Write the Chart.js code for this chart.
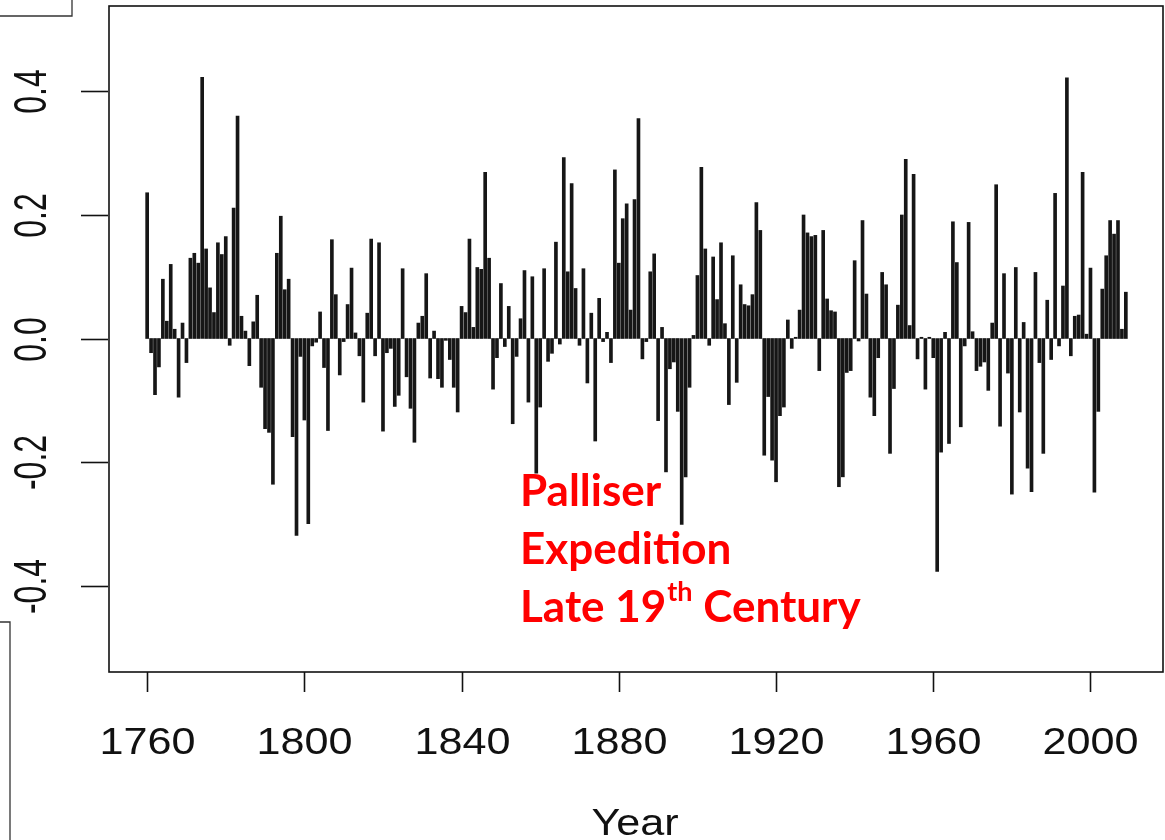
<!DOCTYPE html>
<html>
<head>
<meta charset="utf-8">
<title>Palliser Expedition</title>
<script src="https://cdn.jsdelivr.net/npm/chart.js@4.4.1/dist/chart.umd.min.js"></script>
<style>
  html, body { margin: 0; padding: 0; background: #fff; }
  #wrap { position: relative; width: 1165px; height: 840px; }
</style>
</head>
<body>
<div id="wrap"><canvas id="chart" width="1165" height="840"></canvas></div>
<script>
// Yearly values, one row per decade, starting in 1760
const firstYear = 1760;
const anomaly = [
  0.236, -0.023, -0.091, -0.046, 0.096, 0.028, 0.120, 0.015, -0.095, 0.025,   // 1760s
  -0.039, 0.130, 0.138, 0.122, 0.423, 0.145, 0.082, 0.042, 0.155, 0.136,     // 1770s
  0.165, -0.011, 0.211, 0.360, 0.036, 0.012, -0.044, 0.027, 0.070, -0.079,   // 1780s
  -0.146, -0.152, -0.236, 0.138, 0.198, 0.079, 0.096, -0.159, -0.319, -0.029, // 1790s
  -0.132, -0.300, -0.012, -0.006, 0.043, -0.047, -0.149, 0.160, 0.071, -0.059, // 1800s
  -0.005, 0.055, 0.114, 0.009, -0.028, -0.103, 0.041, 0.161, -0.028, 0.155,  // 1810s
  -0.150, -0.023, -0.016, -0.110, -0.092, 0.113, -0.062, -0.113, -0.168, 0.025, // 1820s
  0.036, 0.105, -0.064, 0.012, -0.065, -0.079, -0.003, -0.034, -0.079, -0.119, // 1830s
  0.052, 0.042, 0.161, 0.018, 0.115, 0.112, 0.269, 0.130, -0.082, -0.031,    // 1840s
  0.089, -0.013, 0.052, -0.138, -0.029, 0.032, 0.110, -0.103, 0.100, -0.218, // 1850s
  -0.111, 0.113, -0.037, -0.024, 0.156, -0.009, 0.293, 0.108, 0.251, 0.081,  // 1860s
  -0.011, 0.113, -0.072, 0.041, -0.166, 0.065, -0.005, 0.010, -0.039, 0.273, // 1870s
  0.122, 0.194, 0.218, 0.046, 0.225, 0.356, -0.033, -0.005, 0.108, 0.137,    // 1880s
  -0.133, 0.018, -0.216, -0.049, -0.038, -0.118, -0.301, -0.224, -0.079, 0.005, // 1890s
  0.102, 0.277, 0.145, -0.011, 0.132, 0.063, 0.155, 0.024, -0.107, 0.134,    // 1900s
  -0.071, 0.087, 0.055, 0.053, 0.071, 0.220, 0.175, -0.189, -0.094, -0.197,  // 1910s
  -0.232, -0.125, -0.111, 0.030, -0.016, 0.002, 0.046, 0.200, 0.171, 0.165,  // 1920s
  0.167, -0.052, 0.175, 0.064, 0.045, 0.043, -0.240, -0.224, -0.055, -0.052, // 1930s
  0.126, -0.004, 0.191, 0.072, -0.095, -0.125, -0.031, 0.107, 0.087, -0.186, // 1940s
  -0.081, 0.054, 0.200, 0.290, 0.021, 0.266, -0.033, 0.002, -0.082, 0.002,   // 1950s
  -0.031, -0.377, -0.184, 0.010, -0.170, 0.189, 0.123, -0.143, -0.012, 0.188, // 1960s
  0.011, -0.052, -0.045, -0.038, -0.084, 0.025, 0.249, -0.142, 0.105, -0.056, // 1970s
  -0.252, 0.115, -0.119, 0.026, -0.210, -0.248, 0.107, -0.039, -0.186, 0.062, // 1980s
  -0.034, 0.235, -0.012, 0.085, 0.422, -0.028, 0.036, 0.038, 0.269, 0.007,   // 1990s
  0.114, -0.249, -0.118, 0.080, 0.134, 0.191, 0.169, 0.191, 0.015, 0.075     // 2000s
];
const years = anomaly.map((v, i) => firstYear + i);

const xTicks = [1760, 1800, 1840, 1880, 1920, 1960, 2000];
const yTicks = [-0.4, -0.2, 0.0, 0.2, 0.4];
const yTickLabels = ['-0.4', '-0.2', '0.0', '0.2', '0.4'];
const xTitle = 'Year';
const noteLines = ['Palliser', 'Expedition'];
const noteLast = ['Late 19', 'th', ' Century'];

const tickFont = '34px "Liberation Sans", Arial, sans-serif';
const yTickFont = '32px "Liberation Sans", Arial, sans-serif';
const noteFont = 'bold 44px Lato, "Open Sans", sans-serif';
const supFont = 'bold 27px Lato, "Open Sans", sans-serif';
const ink = '#111';

// draw text squeezed/stretched around its centre
function drawScaled(ctx, text, cx, cy, sx, sy, rot) {
  ctx.save();
  ctx.translate(cx, cy);
  if (rot) ctx.rotate(rot);
  ctx.scale(sx, sy);
  ctx.fillText(text, 0, 0);
  ctx.restore();
}

const frame = {
  id: 'frame',
  afterDraw(chart) {
    const { ctx, chartArea: a, scales: { x, y } } = chart;
    ctx.save();
    ctx.strokeStyle = ink;
    ctx.fillStyle = ink;
    ctx.lineWidth = 1.6;

    // plot box
    ctx.strokeRect(a.left + 1, a.top + 1, a.right - a.left - 3, a.bottom - a.top - 1);

    ctx.textAlign = 'center';
    ctx.textBaseline = 'middle';

    // x axis ticks and labels (the original print is stretched sideways)
    ctx.font = tickFont;
    xTicks.forEach(t => {
      const px = Math.round(x.getPixelForValue(t)) + 0.5;
      ctx.beginPath();
      ctx.moveTo(px, a.bottom);
      ctx.lineTo(px, a.bottom + 20);
      ctx.stroke();
      drawScaled(ctx, String(t), px, a.bottom + 72, 1.27, 1.06, 0);
    });

    // y axis ticks and rotated labels
    ctx.font = yTickFont;
    yTicks.forEach((t, i) => {
      const py = Math.round(y.getPixelForValue(t)) + 0.5;
      ctx.beginPath();
      ctx.moveTo(a.left - 27, py);
      ctx.lineTo(a.left, py);
      ctx.stroke();
      drawScaled(ctx, yTickLabels[i], 33, py, 1.0, 1.45, -Math.PI / 2);
    });

    // axis title
    ctx.font = tickFont;
    drawScaled(ctx, xTitle, 635, 825, 1.27, 1.06, 0);

    // annotation
    ctx.fillStyle = '#ff0000';
    ctx.textAlign = 'left';
    ctx.textBaseline = 'alphabetic';
    ctx.font = noteFont;
    ctx.fillText(noteLines[0], 520, 506);
    ctx.fillText(noteLines[1], 520, 564);
    let tx = 520;
    ctx.fillText(noteLast[0], tx, 622);
    tx += ctx.measureText(noteLast[0]).width;
    ctx.font = supFont;
    ctx.fillText(noteLast[1], tx + 1, 601);
    tx += ctx.measureText(noteLast[1]).width + 1;
    ctx.font = noteFont;
    ctx.fillText(noteLast[2], tx, 622);

    // fragments of neighbouring panels at the page edge
    ctx.strokeStyle = '#333';
    ctx.lineWidth = 1.3;
    ctx.beginPath();
    ctx.moveTo(0, 16); ctx.lineTo(72, 16); ctx.lineTo(72, 0);
    ctx.moveTo(0, 622); ctx.lineTo(10, 622); ctx.lineTo(10, 840);
    ctx.stroke();
    ctx.restore();
  }
};

new Chart(document.getElementById('chart'), {
  type: 'bar',
  data: {
    datasets: [{
      data: years.map((yr, i) => ({ x: yr, y: anomaly[i] })),
      backgroundColor: '#161616',
      borderWidth: 0,
      barThickness: 3
    }]
  },
  options: {
    responsive: false,
    animation: false,
    events: [],
    layout: { padding: { left: 108, right: 0, top: 5, bottom: 168 } },
    plugins: { legend: { display: false }, tooltip: { enabled: false } },
    scales: {
      x: { type: 'linear', display: false, offset: false, min: 1750.04, max: 2018.96 },
      y: { display: false, min: -0.54, max: 0.54 }
    }
  },
  plugins: [frame]
});
</script>
</body>
</html>
